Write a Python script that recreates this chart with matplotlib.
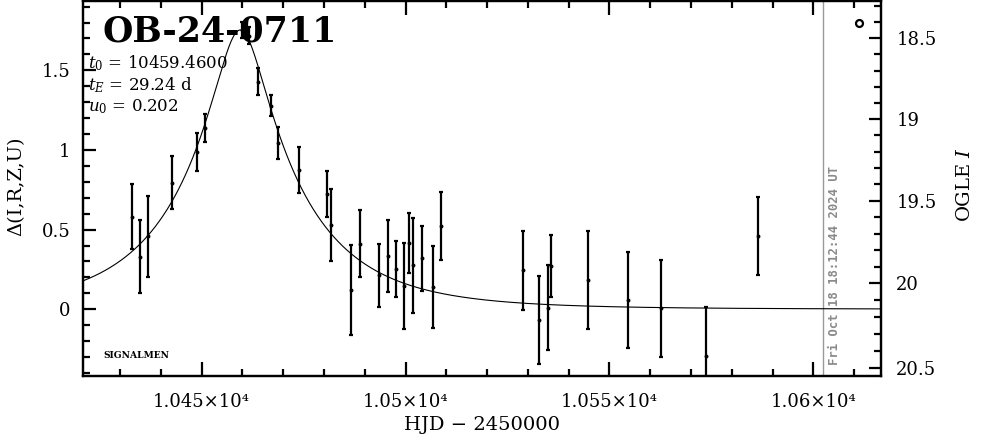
import numpy as np
import matplotlib
matplotlib.use("Agg")
import matplotlib.pyplot as plt
from matplotlib.ticker import FixedLocator, MultipleLocator, FuncFormatter

# ---- event parameters (as printed on the chart) ----
event_name = "OB-24-0711"
t0 = 10459.4600
tE = 29.24
u0 = 0.202

# ---- photometric data: HJD-2450000, Delta mag, error ----
hjd = [10432.83, 10434.87, 10436.90, 10442.79, 10448.90, 10450.93, 10459.81,
       10461.72, 10463.88, 10466.92, 10468.71, 10473.94, 10480.81, 10481.64,
       10486.69, 10488.83, 10493.56, 10495.62, 10497.73, 10499.62, 10500.72,
       10501.90, 10503.91, 10506.61, 10508.62, 10528.69, 10532.81, 10534.82,
       10535.75, 10544.82, 10554.63, 10562.73, 10573.62, 10586.52]
delta = [0.581, 0.330, 0.459, 0.793, 0.989, 1.139, 1.753,
         1.716, 1.429, 1.279, 1.044, 0.874, 0.726, 0.530,
         0.122, 0.412, 0.213, 0.335, 0.252, 0.148, 0.418,
         0.277, 0.319, 0.139, 0.523, 0.245, -0.067, 0.010,
         0.270, 0.184, 0.060, 0.007, -0.293, 0.459]
delta_err = [0.203, 0.230, 0.254, 0.166, 0.119, 0.087, 0.052,
             0.053, 0.084, 0.066, 0.102, 0.146, 0.144, 0.225,
             0.283, 0.209, 0.199, 0.224, 0.175, 0.271, 0.189,
             0.298, 0.205, 0.256, 0.214, 0.249, 0.274, 0.265,
             0.193, 0.309, 0.301, 0.304, 0.309, 0.244]

# ---- OGLE I magnitude scale (right axis) ----
src_flux = 0.8217     # source flux relative to I=20
blend_flux = 0.0451   # blend flux relative to I=20
mag_ref = 20.0
mag_major = [18.5, 19.0, 19.5, 20.0, 20.5]
mag_minor = [18.3, 18.4, 18.6, 18.7, 18.8, 18.9, 19.1, 19.2, 19.3, 19.4,
             19.6, 19.7, 19.8, 19.9, 20.1, 20.2, 20.3, 20.4]

now_stamp = "Fri Oct 18 18:12:44 2024 UT"
now_hjd = 10602.47

xlim = (10420.89, 10616.6)
ylim = (-0.419, 1.935)


def magnification(t):
    u = np.sqrt(u0 ** 2 + ((t - t0) / tE) ** 2)
    return (u ** 2 + 2) / (u * np.sqrt(u ** 2 + 4))


def mag_to_delta(m):
    f = 10 ** (-0.4 * (np.asarray(m) - mag_ref))
    return 2.5 * np.log10((f - blend_flux) / src_flux)


plt.rcParams['font.family'] = ['DejaVu Serif']
plt.rcParams['mathtext.fontset'] = 'dejavuserif'

W, H = 986, 434
fig = plt.figure(figsize=(W / 100, H / 100), dpi=100)
L, R, T, B = 83, 881, 1, 376
ax = fig.add_axes([L / W, 1 - B / H, (R - L) / W, (B - T) / H])

# model curve
tt = np.linspace(xlim[0], xlim[1], 2000)
ax.plot(tt, 2.5 * np.log10(magnification(tt)), color='k', lw=0.8, zorder=2)

# data
ax.errorbar(hjd, delta, yerr=delta_err, fmt='o', ms=1.8, color='k',
            ecolor='k', elinewidth=1.6, capsize=1.3, capthick=1.6, zorder=3)

# current time line
ax.axvline(now_hjd, color='#9a9a9a', lw=1.0, zorder=1)
ax.text(now_hjd + 1.1, ylim[0] + 0.07, now_stamp, rotation=90, ha='left',
        va='bottom', color='#8a8a8a', fontsize=8.8, family='DejaVu Sans Mono',
        fontweight='bold')

ax.set_xlim(*xlim)
ax.set_ylim(*ylim)

for s in ax.spines.values():
    s.set_linewidth(1.6)

ax.xaxis.set_major_locator(MultipleLocator(50))
ax.xaxis.set_minor_locator(MultipleLocator(10))
ax.xaxis.set_major_formatter(FuncFormatter(lambda v, p: f"{v / 1e4:g}\u00d710\u2074"))
ax.yaxis.set_major_locator(MultipleLocator(0.5))
ax.yaxis.set_minor_locator(MultipleLocator(0.1))
ax.yaxis.set_major_formatter(FuncFormatter(lambda v, p: f"{v:g}"))

ax.tick_params(axis='both', which='both', direction='in', width=1.6,
               top=True, right=False, labelsize=13)
ax.tick_params(axis='x', which='major', length=10, pad=12)
ax.tick_params(axis='x', which='minor', length=5)
ax.tick_params(axis='y', which='major', length=9, pad=9)
ax.tick_params(axis='y', which='minor', length=5)

# right magnitude axis
ax2 = ax.twinx()
ax2.set_ylim(*ylim)
ax2.yaxis.set_major_locator(FixedLocator(mag_to_delta(mag_major)))
ax2.yaxis.set_minor_locator(FixedLocator(mag_to_delta(mag_minor)))
ax2.yaxis.set_major_formatter(FuncFormatter(
    lambda v, p: f"{mag_major[p]:g}" if p is not None and p < len(mag_major) else ""))
ax2.tick_params(axis='y', which='both', direction='in', width=1.6, labelsize=13)
ax2.tick_params(axis='y', which='major', length=9, pad=11)
ax2.tick_params(axis='y', which='minor', length=5)
for s in ax2.spines.values():
    s.set_linewidth(1.6)

# labels
fig.text(482 / W, 1 - 425 / H, "HJD \u2212 2450000", ha='center', va='center', fontsize=14)
fig.text(16 / W, 1 - 186 / H, "\u0394(I,R,Z,U)", ha='center', va='center',
         rotation=90, fontsize=14)
fig.text(965 / W, 1 - 185 / H, "OGLE $I$", ha='center', va='center',
         rotation=90, fontsize=14)

# title and parameters
fig.text(103 / W, 1 - 31 / H, event_name, ha='left', va='center', fontsize=25,
         fontweight='bold')
fig.text(88 / W, 1 - 63 / H, f"$t_0$ = {t0:.4f}", ha='left', va='center', fontsize=12)
fig.text(88 / W, 1 - 85 / H, f"$t_E$ = {tE:.2f} d", ha='left', va='center', fontsize=12)
fig.text(88 / W, 1 - 107 / H, f"$u_0$ = {u0:.3f}", ha='left', va='center', fontsize=12)
fig.text(103 / W, 1 - 355 / H, "SIGNALMEN", ha='left', va='center', fontsize=6.6,
         fontweight='bold')

# OGLE symbol
ax.plot([0.973], [0.9405], 'o', transform=ax.transAxes, ms=5, mfc='none',
        mec='k', mew=1.6, clip_on=False)

fig.savefig("out.png", dpi=100)
